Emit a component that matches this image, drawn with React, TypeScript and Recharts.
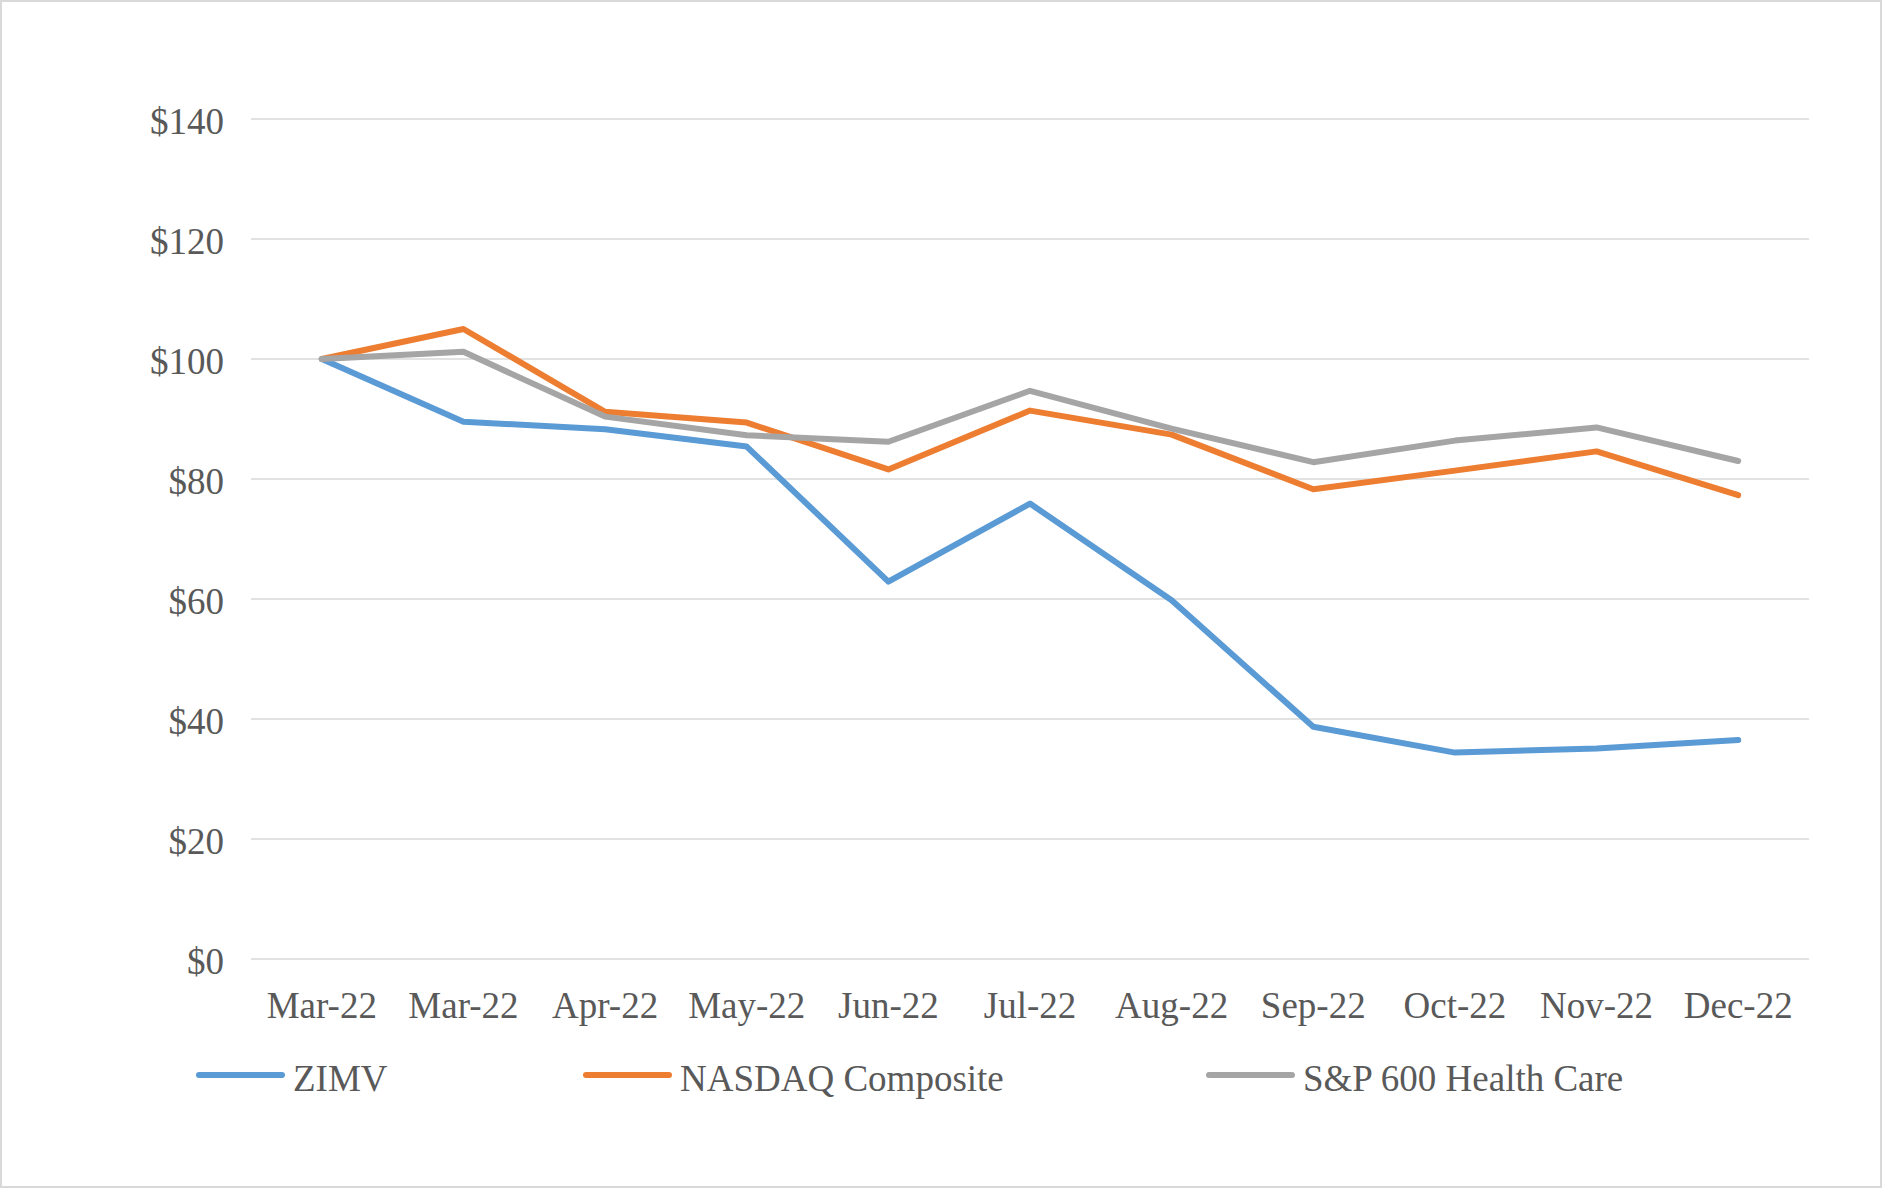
import React from 'react';
import { LineChart, Line, XAxis, YAxis, CartesianGrid, Legend } from 'recharts';

const months = ['Mar-22', 'Mar-22', 'Apr-22', 'May-22', 'Jun-22', 'Jul-22', 'Aug-22', 'Sep-22', 'Oct-22', 'Nov-22', 'Dec-22'];
const zimv = [100, 89.55, 88.3, 85.4, 62.9, 75.9, 59.8, 38.7, 34.4, 35.1, 36.5];
const nasdaq = [100, 105, 91.2, 89.4, 81.6, 91.4, 87.4, 78.3, 81.4, 84.6, 77.3];
const sp600hc = [100, 101.2, 90.4, 87.3, 86.2, 94.7, 88.4, 82.8, 86.4, 88.6, 83.0];
const yTicks = [0, 20, 40, 60, 80, 100, 120, 140];

const seriesList = [
  { key: 'zimv', name: 'ZIMV', color: '#5B9BD5' },
  { key: 'nasdaq', name: 'NASDAQ Composite', color: '#ED7D31' },
  { key: 'sp', name: 'S&P 600 Health Care', color: '#A5A5A5' },
];

const data = months.map((m, i) => ({
  month: m,
  zimv: zimv[i],
  nasdaq: nasdaq[i],
  sp: sp600hc[i],
}));

const FONT = "'Liberation Serif', 'Times New Roman', Times, serif";
const TEXT = '#595959';

const legendX = [196, 583, 1206];

const renderLegend = () => (
  <svg width={1882} height={80} style={{ overflow: 'visible', display: 'block' }}>
    {seriesList.map((s, i) => (
      <g key={s.key}>
        <line
          x1={legendX[i] + 3}
          x2={legendX[i] + 86}
          y1={35}
          y2={35}
          stroke={s.color}
          strokeWidth={6}
          strokeLinecap="round"
        />
        <text x={legendX[i] + 97} y={51} fontFamily={FONT} fontSize={37} fill={TEXT}>
          {s.name}
        </text>
      </g>
    ))}
  </svg>
);

export default function App() {
  return (
    <div style={{ position: 'absolute', left: 0, top: 0, width: 1882, height: 1188, background: '#fff' }}>
      <div
        style={{
          position: 'absolute',
          left: 0,
          top: 0,
          width: 1882,
          height: 1188,
          boxSizing: 'border-box',
          border: '2px solid #D9D9D9',
          pointerEvents: 'none',
        }}
      />
      <div style={{ position: 'absolute', left: 0, top: 0 }}>
        <LineChart
          width={1882}
          height={1188}
          data={data}
          margin={{ top: 119, right: 73, bottom: 189, left: 0 }}
        >
          <CartesianGrid vertical={false} stroke="#D9D9D9" strokeWidth={1.5} />
          <XAxis
            dataKey="month"
            height={40}
            axisLine={false}
            tickLine={false}
            tickSize={0}
            tickMargin={33}
            interval={0}
            padding={{ left: 70.8, right: 70.8 }}
            tick={{ fill: TEXT, fontSize: 37, fontFamily: FONT }}
          />
          <YAxis
            width={251}
            domain={[0, 140]}
            ticks={yTicks}
            interval={0}
            axisLine={false}
            tickLine={false}
            tickSize={0}
            tickMargin={27}
            tickFormatter={(v) => `$${v}`}
            tick={{ fill: TEXT, fontSize: 37, fontFamily: FONT, dy: 2 }}
          />
          {seriesList.map((s) => (
            <Line
              key={s.key}
              type="linear"
              dataKey={s.key}
              name={s.name}
              stroke={s.color}
              strokeWidth={6}
              strokeLinecap="round"
              strokeLinejoin="round"
              dot={false}
              activeDot={false}
              isAnimationActive={false}
            />
          ))}
          <Legend
            content={renderLegend}
            wrapperStyle={{ position: 'absolute', left: 0, top: 1040, bottom: 'auto', width: 1882, height: 0, overflow: 'visible' }}
          />
        </LineChart>
      </div>
    </div>
  );
}
